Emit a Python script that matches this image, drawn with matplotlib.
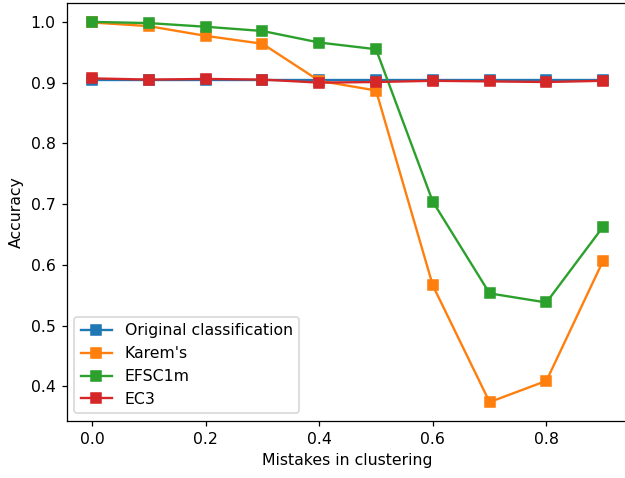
import matplotlib
matplotlib.use("Agg")
import matplotlib.pyplot as plt

mistakes = [0.0, 0.1, 0.2, 0.3, 0.4, 0.5, 0.6, 0.7, 0.8, 0.9]
original = [0.905, 0.905, 0.905, 0.905, 0.905, 0.905, 0.905, 0.905, 0.905, 0.905]
karem = [0.999, 0.993, 0.977, 0.964, 0.903, 0.887, 0.566, 0.374, 0.409, 0.607]
efsc1m = [1.0, 0.998, 0.992, 0.985, 0.966, 0.955, 0.704, 0.553, 0.538, 0.663]
ec3 = [0.907, 0.905, 0.906, 0.905, 0.900, 0.901, 0.903, 0.902, 0.901, 0.903]

# reference looks like a default figure rendered a bit larger, then cropped
dpi = 113
fig, ax = plt.subplots(figsize=(625 / dpi, 478 / dpi), dpi=dpi)
ax.plot(mistakes, original, marker='s', label='Original classification')
ax.plot(mistakes, karem, marker='s', label="Karem's")
ax.plot(mistakes, efsc1m, marker='s', label='EFSC1m')
ax.plot(mistakes, ec3, marker='s', label='EC3')
ax.set_xlabel('Mistakes in clustering')
ax.set_ylabel('Accuracy')
ax.legend(loc='lower left')
fig.subplots_adjust(left=0.1064, right=1.006, top=0.994, bottom=0.119)
fig.savefig('out.png', dpi=dpi)
